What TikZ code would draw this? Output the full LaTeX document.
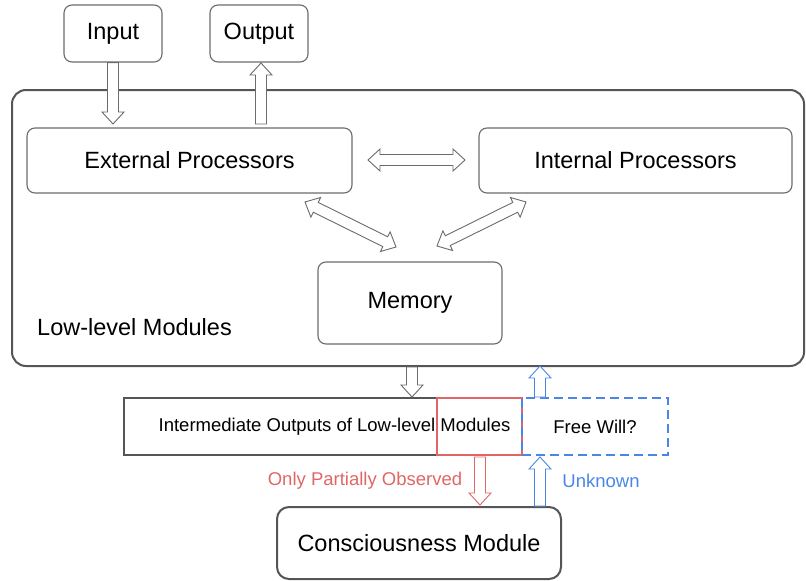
\documentclass[tikz,border=0pt]{standalone}
\usepackage{fontspec}
\setmainfont{Liberation Sans}
\usetikzlibrary{calc}

\definecolor{boxgray}{HTML}{6B6B6B}
\definecolor{framegray}{HTML}{555555}
\definecolor{obsred}{HTML}{E06666}
\definecolor{willblue}{HTML}{4A86E8}

\tikzset{
  module/.style={draw=boxgray, line width=1.1pt, rounded corners=8pt, inner sep=0pt,
    font=\fontsize{23.5}{27}\selectfont},
  smalltext/.style={inner sep=0pt, font=\fontsize{18.5}{22}\selectfont},
  bartext/.style={draw=framegray, line width=2pt, inner sep=0pt, minimum height=57pt}
}

% hollow block arrows between two named points
\newcommand{\fatarrow}[3][boxgray]{%
  \coordinate (fa-h) at ($(#3)!12pt!(#2)$);
  \draw[draw=#1, line width=0.9pt, fill=white]
    ($(#2)!5.5pt!90:(#3)$) -- ($(fa-h)!5.5pt!90:(#3)$) -- ($(fa-h)!11pt!90:(#3)$) -- (#3)
    -- ($(fa-h)!11pt!-90:(#3)$) -- ($(fa-h)!5.5pt!-90:(#3)$) -- ($(#2)!5.5pt!-90:(#3)$) -- cycle;}
\newcommand{\fatdarrow}[3][boxgray]{%
  \coordinate (fa-a) at ($(#2)!12pt!(#3)$);
  \coordinate (fa-b) at ($(#3)!12pt!(#2)$);
  \draw[draw=#1, line width=0.9pt, fill=white]
    (#2) -- ($(fa-a)!11pt!90:(#3)$) -- ($(fa-a)!5.5pt!90:(#3)$) -- ($(fa-b)!5.5pt!90:(#3)$)
    -- ($(fa-b)!11pt!90:(#3)$) -- (#3) -- ($(fa-b)!11pt!-90:(#3)$) -- ($(fa-b)!5.5pt!-90:(#3)$)
    -- ($(fa-a)!5.5pt!-90:(#3)$) -- ($(fa-a)!11pt!-90:(#3)$) -- cycle;}

\begin{document}
\begin{tikzpicture}[x=1pt, y=-1pt]
    \useasboundingbox (0,0) rectangle (806,581);

    % low-level part
    \node[draw=framegray, line width=2pt, rounded corners=14pt, minimum width=792pt, minimum height=276pt] (low) at (408,228) {};
    \node[module, minimum width=98pt, minimum height=57pt] (input) at (113,33.5) {Input};
    \node[module, minimum width=98pt, minimum height=57pt] (output) at (259,33.5) {Output};
    \node[module, minimum width=325pt, minimum height=65pt] (ext) at (189.5,160.5) {External Processors};
    \node[module, minimum width=313pt, minimum height=65pt] (int) at (635.5,160.5) {Internal Processors};
    \node[module, minimum width=184pt, minimum height=82pt] (mem) at (410,303) {Memory};
    \node[inner sep=0pt, anchor=west, font=\fontsize{23.5}{27}\selectfont] (lowlabel) at (37,327) {Low-level Modules};

    % intermediate outputs
    \node[bartext, minimum width=398pt] (inter) at (323,426.5) {};
    \node[smalltext] (intertext) at (334.5,426.5) {Intermediate Outputs of Low-level Modules};
    \node[draw=obsred, line width=2pt, minimum width=85pt, minimum height=57pt] (observed) at (479.5,426.5) {};
    \node[smalltext, draw=willblue, line width=2pt, dash pattern=on 9pt off 5pt, minimum width=146pt, minimum height=57pt] (will) at (595,426.5) {Free Will?};

    % consciousness
    \node[module, draw=framegray, line width=2pt, rounded corners=12pt, minimum width=284pt, minimum height=72pt] (cons) at (419,543) {Consciousness Module};
    \node[smalltext, text=obsred] (partial) at (365,481) {Only Partially Observed};
    \node[smalltext, text=willblue] (unknown) at (601,481) {Unknown};

    % arrow end points
    \coordinate (in-e) at (113,124);
    \coordinate (out-s) at (261,124);
    \coordinate (out-e) at (261,63);
    \coordinate (ei-w) at (368,160);
    \coordinate (ei-e) at (465,160);
    \coordinate (em-a) at (305,202);
    \coordinate (em-b) at (396,247);
    \coordinate (im-a) at (526,202);
    \coordinate (im-b) at (437,246);
    \coordinate (lm-s) at (412,367);
    \coordinate (lm-e) at (412,397);
    \coordinate (fw-s) at (540,397);
    \coordinate (fw-e) at (540,366);
    \coordinate (ob-s) at (480,457);
    \coordinate (ob-e) at (480,505);
    \coordinate (uk-s) at (540,506);
    \coordinate (uk-e) at (540,457);

    \fatarrow{input.south}{in-e}
    \fatarrow{out-s}{out-e}
    \fatdarrow{ei-w}{ei-e}
    \fatdarrow{em-a}{em-b}
    \fatdarrow{im-a}{im-b}
    \fatarrow{lm-s}{lm-e}
    \fatarrow[willblue]{fw-s}{fw-e}
    \fatarrow[obsred]{ob-s}{ob-e}
    \fatarrow[willblue]{uk-s}{uk-e}
\end{tikzpicture}
\end{document}
